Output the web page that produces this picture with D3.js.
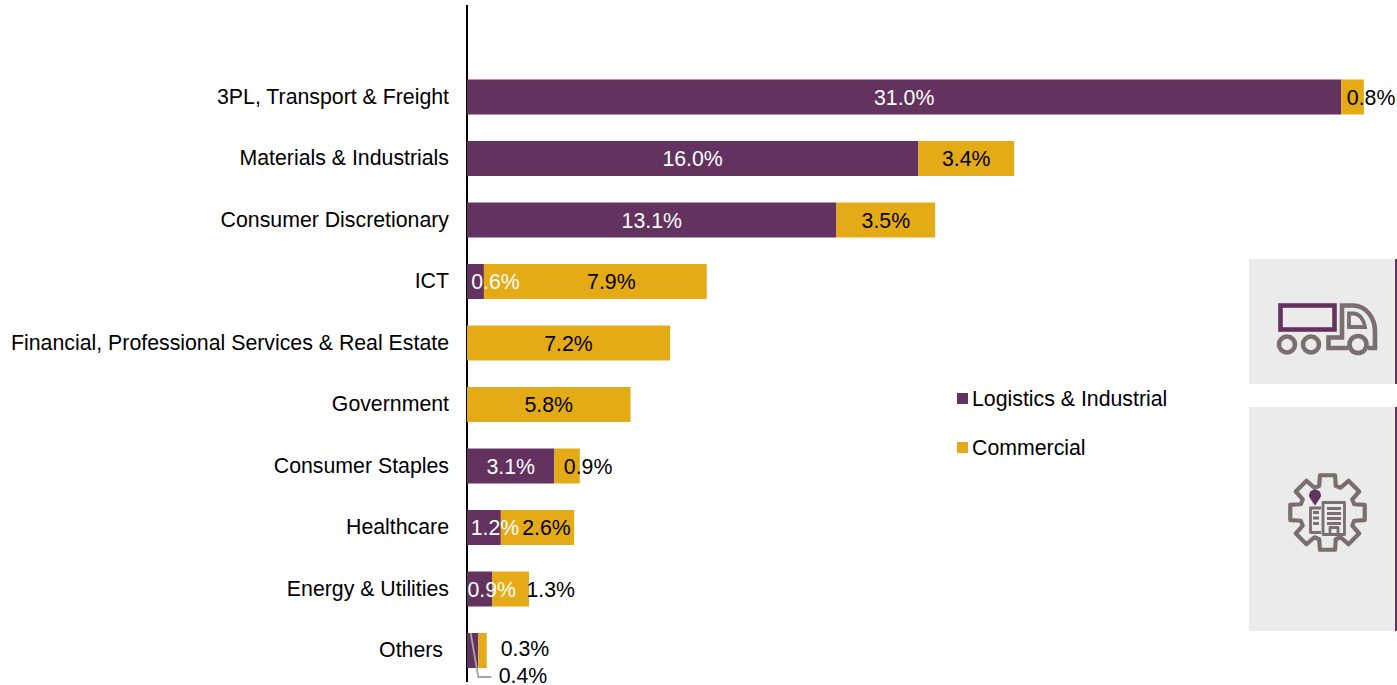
<!DOCTYPE html>
<html><head><meta charset="utf-8">
<style>html,body{margin:0;padding:0;background:#fff;overflow:hidden}svg{display:block}text{font-family:"Liberation Sans",Arial,sans-serif}</style>
<script src="https://cdn.jsdelivr.net/npm/d3@7/dist/d3.min.js"></script>
</head><body><svg id="c" width="1397" height="685"></svg>
<script>
const categories = ["3PL, Transport & Freight","Materials & Industrials","Consumer Discretionary","ICT","Financial, Professional Services & Real Estate","Government","Consumer Staples","Healthcare","Energy & Utilities","Others"];
const logistics = [31.0,16.0,13.1,0.6,0,0,3.1,1.2,0.9,0.4];
const commercial = [0.8,3.4,3.5,7.9,7.2,5.8,0.9,2.6,1.3,0.3];
const seriesNames = ["Logistics & Industrial","Commercial"];

const PURPLE="#63325f", GOLD="#e5ab17", GREY="#7a6e6e", PANEL="#ebebeb";
const FS=21.3;
const svg=d3.select("#c");
const x=d3.scaleLinear().domain([0,31]).range([467,1341.3]);
const y=d3.scaleBand().domain(categories).range([66.25,681.25]).paddingInner(26.5/61.5).paddingOuter(13.25/61.5);

// label nudges (px) relative to segment centre, by category
const nudgeL={"ICT":20,"Energy & Utilities":12,"Healthcare":11};
const nudgeC={"3PL, Transport & Freight":18.5,"Consumer Staples":21,"Energy & Utilities":40,"ICT":16,"Healthcare":9};

// axis
svg.append("line").attr("x1",467).attr("x2",467).attr("y1",5).attr("y2",682).attr("stroke","#000").attr("stroke-width",2);

const rows=categories.map((c,i)=>({c,l:logistics[i],k:commercial[i]}));
svg.selectAll("rect.l").data(rows).join("rect").attr("class","l")
 .attr("x",x(0)).attr("y",d=>y(d.c)).attr("width",d=>x(d.l)-x(0)).attr("height",y.bandwidth()).attr("fill",PURPLE);
svg.selectAll("rect.k").data(rows).join("rect").attr("class","k")
 .attr("x",d=>x(d.l)).attr("y",d=>y(d.c)).attr("width",d=>x(d.l+d.k)-x(d.l)).attr("height",y.bandwidth()).attr("fill",GOLD);

// category labels
svg.selectAll("text.cat").data(rows).join("text").attr("class","cat")
 .attr("x",d=>d.c==="Others"?443:449).attr("y",d=>y(d.c)+y.bandwidth()/2+6.8).attr("text-anchor","end")
 .attr("font-size",FS).attr("fill","#000").text(d=>d.c);

// value labels
const fmt=v=>v.toFixed(1)+"%";
svg.selectAll("text.vl").data(rows.filter(d=>d.l>0&&d.c!=="Others")).join("text").attr("class","vl")
 .attr("x",d=>(x(0)+x(d.l))/2+(nudgeL[d.c]||0)).attr("y",d=>y(d.c)+y.bandwidth()/2+7.6).attr("text-anchor","middle")
 .attr("font-size",FS).attr("fill","#fff").text(d=>fmt(d.l));
svg.selectAll("text.vk").data(rows.filter(d=>d.c!=="Others")).join("text").attr("class","vk")
 .attr("x",d=>(x(d.l)+x(d.l+d.k))/2+(nudgeC[d.c]||0)).attr("y",d=>y(d.c)+y.bandwidth()/2+7.6).attr("text-anchor","middle")
 .attr("font-size",FS).attr("fill","#000").text(d=>fmt(d.k));

// Others callouts
const o=rows[rows.length-1], oy=y(o.c), ob=y.bandwidth();
svg.append("path").attr("d",`M${x(0.13)},${oy} L${x(0.4)},${oy+ob+9} L${x(0.4)+13},${oy+ob+9}`).attr("fill","none").attr("stroke","#a6a6a6").attr("stroke-width",1.8);
svg.append("text").attr("x",525).attr("y",oy+ob/2+5).attr("text-anchor","middle").attr("font-size",FS).text(fmt(o.k));
svg.append("text").attr("x",523).attr("y",oy+ob/2+32).attr("text-anchor","middle").attr("font-size",FS).text(fmt(o.l));

// legend
const lg=svg.selectAll("g.lg").data(seriesNames).join("g").attr("class","lg").attr("transform",(d,i)=>`translate(957,${398.5+i*49})`);
lg.append("rect").attr("y",-5.5).attr("width",11).attr("height",11).attr("fill",(d,i)=>i?GOLD:PURPLE);
lg.append("text").attr("x",15).attr("y",7).attr("font-size",FS).text(d=>d);

// icon panels
svg.append("rect").attr("x",1249).attr("y",259).attr("width",146).attr("height",125).attr("fill",PANEL);
svg.append("rect").attr("x",1249).attr("y",407).attr("width",146).attr("height",224).attr("fill",PANEL);
svg.append("rect").attr("x",1395).attr("y",259).attr("width",2).attr("height",125).attr("fill",PURPLE);
svg.append("rect").attr("x",1395).attr("y",407).attr("width",2).attr("height",224).attr("fill",PURPLE);

// truck icon
const t=svg.append("g").attr("fill","none").attr("stroke",GREY).attr("stroke-width",4.6);
t.append("rect").attr("x",1280.5).attr("y",305.5).attr("width",54).attr("height",24).attr("stroke",PURPLE);
t.append("circle").attr("cx",1287).attr("cy",344.5).attr("r",8);
t.append("circle").attr("cx",1311).attr("cy",344.5).attr("r",8);
t.append("circle").attr("cx",1358).attr("cy",344.5).attr("r",8.5);
t.append("path").attr("d","M1348,348 H1328.5 V337.5 H1342 V305.5 H1353 C1366,305.5 1375,318 1375,331 V348 H1368");
t.append("path").attr("stroke-width",3.8).attr("d","M1349,313.5 H1354 C1360,314 1364,320 1365,327 H1349 Z");

// gear icon
const g=svg.append("g").attr("fill","none").attr("stroke",GREY).attr("stroke-width",4.2).attr("stroke-linejoin","round");
const cx=1327.5,cy=512.5,teeth=8,rO=38,rI=28,pts=[];
for(let i=0;i<teeth;i++){const a=(i/teeth)*2*Math.PI-Math.PI/2,w=0.2,w2=0.3;
 pts.push([a-w2,rI],[a-w,rO],[a+w,rO],[a+w2,rI]);}
g.append("path").attr("d",d3.line()(pts.map(([a,r])=>[cx+r*Math.cos(a),cy+r*Math.sin(a)]))+"Z");
g.append("rect").attr("x",1323).attr("y",502.5).attr("width",21.5).attr("height",32).attr("stroke-width",2.8);
g.append("path").attr("stroke-width",2.8).attr("d","M1321,508 H1310.5 V532.5 H1321 M1327,508.5 H1341 M1327,513.5 H1341 M1327,518.5 H1341 M1327,523.5 H1341 M1330,534 V527.5 H1338 V534 M1313,512.5 H1319 M1313,518 H1319 M1313,523.5 H1319");
svg.append("path").attr("fill",PURPLE).attr("d","M1315,505.5 C1311,500 1309,497 1309,495.5 A6,6 0 0 1 1321,495.5 C1321,497 1319,500 1315,505.5 Z");
</script></body></html>
